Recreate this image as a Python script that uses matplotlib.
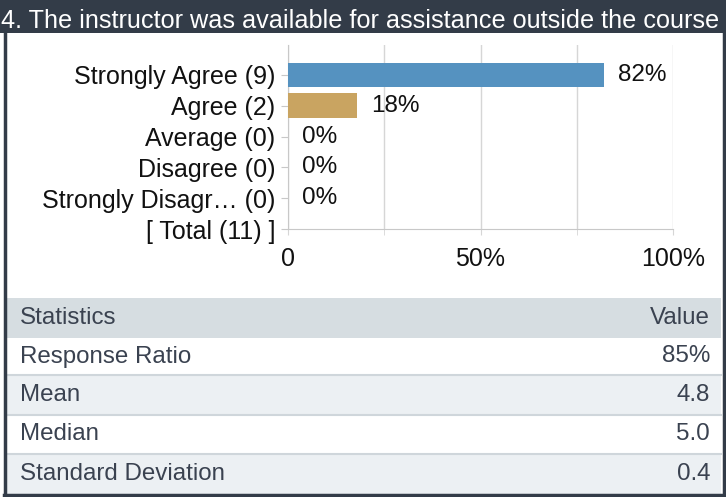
import numpy as np
import matplotlib
matplotlib.use("Agg")
import matplotlib.pyplot as plt
from matplotlib.patches import Rectangle

# answer categories and results
labels = ["Strongly Agree (9)", "Agree (2)", "Average (0)", "Disagree (0)",
          "Strongly Disagr\u2026 (0)", "[ Total (11) ]"]
percents = [82, 18, 0, 0, 0]
bar_colors = ["#5592c0", "#c9a461", "#5592c0", "#5592c0", "#5592c0"]
x_ticks = [0, 50, 100]
x_ticklabels = ["0", "50%", "100%"]

# statistics table
stat_names = ["Response Ratio", "Mean", "Median", "Standard Deviation"]
stat_values = ["85%", "4.8", "5.0", "0.4"]

title = "4. The instructor was available for assistance outside the course"

W, H = 726, 497
dark = "#333c48"
plt.rcParams["font.family"] = ["Liberation Sans", "DejaVu Sans"]

fig = plt.figure(figsize=(W / 100, H / 100), dpi=100)
fig.patch.set_facecolor("white")


def fx(px):
    return px / W


def fy(py):
    return 1 - py / H


# title bar
fig.patches.append(Rectangle((0, fy(33)), 1, 33 / H, transform=fig.transFigure,
                             facecolor=dark, edgecolor="none", zorder=0))
fig.text(fx(1), fy(28), title, color="white", fontsize=18.2, va="baseline", ha="left")

# bar chart
ax_l, ax_r, ax_t, ax_b = 288, 673, 45, 229
ax = fig.add_axes([fx(ax_l), fy(ax_b), fx(ax_r - ax_l), (ax_b - ax_t) / H])
ypos = np.arange(len(labels))
bars = ax.barh(ypos[:len(percents)], percents, height=0.8, color=bar_colors, zorder=3)
for rect, p in zip(bars, percents):
    ax.annotate("{}%".format(p), (rect.get_width(), rect.get_y() + rect.get_height() / 2),
                xytext=(10, 0), textcoords="offset points", va="center", ha="left",
                fontsize=17.5, color="#111111")

ax.set_xlim(0, 100)
ax.set_ylim(5, -0.97)
ax.set_yticks(ypos)
ax.set_yticklabels(labels, fontsize=18, color="#111111")
ax.set_xticks(x_ticks)
ax.set_xticklabels(x_ticklabels, fontsize=18, color="#111111")
ax.set_xticks([25, 75], minor=True)
ax.grid(axis="x", which="both", color="#d6d6d6", linewidth=1, zorder=0)
ax.tick_params(axis="y", length=5, color="#c8c8c8", pad=4)
ax.tick_params(axis="x", which="both", length=4, color="#d6d6d6", pad=9)
for s in ["top", "right"]:
    ax.spines[s].set_visible(False)
ax.spines["left"].set_color("#c8c8c8")
ax.spines["bottom"].set_color("#c8c8c8")

# statistics table
tbl_l, tbl_r = 7, 721
row_edges = [298, 338, 375, 415, 454, 494]
row_bgs = ["#d6dde1", "#ffffff", "#ecf0f3", "#ffffff", "#ecf0f3"]
rows = [("Statistics", "Value")] + list(zip(stat_names, stat_values))
txt_color = "#3a4250"
for i, (name, val) in enumerate(rows):
    top, bot = row_edges[i], row_edges[i + 1]
    fig.patches.append(Rectangle((fx(tbl_l), fy(bot)), fx(tbl_r - tbl_l), (bot - top) / H,
                                 transform=fig.transFigure, facecolor=row_bgs[i],
                                 edgecolor="none", zorder=0))
    if i > 1:
        fig.add_artist(plt.Line2D([fx(tbl_l), fx(tbl_r)], [fy(top), fy(top)],
                                  color="#cfd6db", linewidth=1.5))
    mid = fy((top + bot) / 2)
    fig.text(fx(20), mid, name, color=txt_color, fontsize=17.4, va="center", ha="left")
    fig.text(fx(710), mid, val, color=txt_color, fontsize=17.4, va="center", ha="right")

# outer frame
fig.add_artist(plt.Line2D([fx(5), fx(5)], [fy(33), fy(495)], color=dark, linewidth=2.5))
fig.add_artist(plt.Line2D([fx(723.5), fx(723.5)], [fy(33), fy(495)], color=dark, linewidth=2.5))
fig.add_artist(plt.Line2D([fx(4), fx(724.5)], [fy(495), fy(495)], color=dark, linewidth=2.5))

fig.savefig("out.png", dpi=100, facecolor="white")
